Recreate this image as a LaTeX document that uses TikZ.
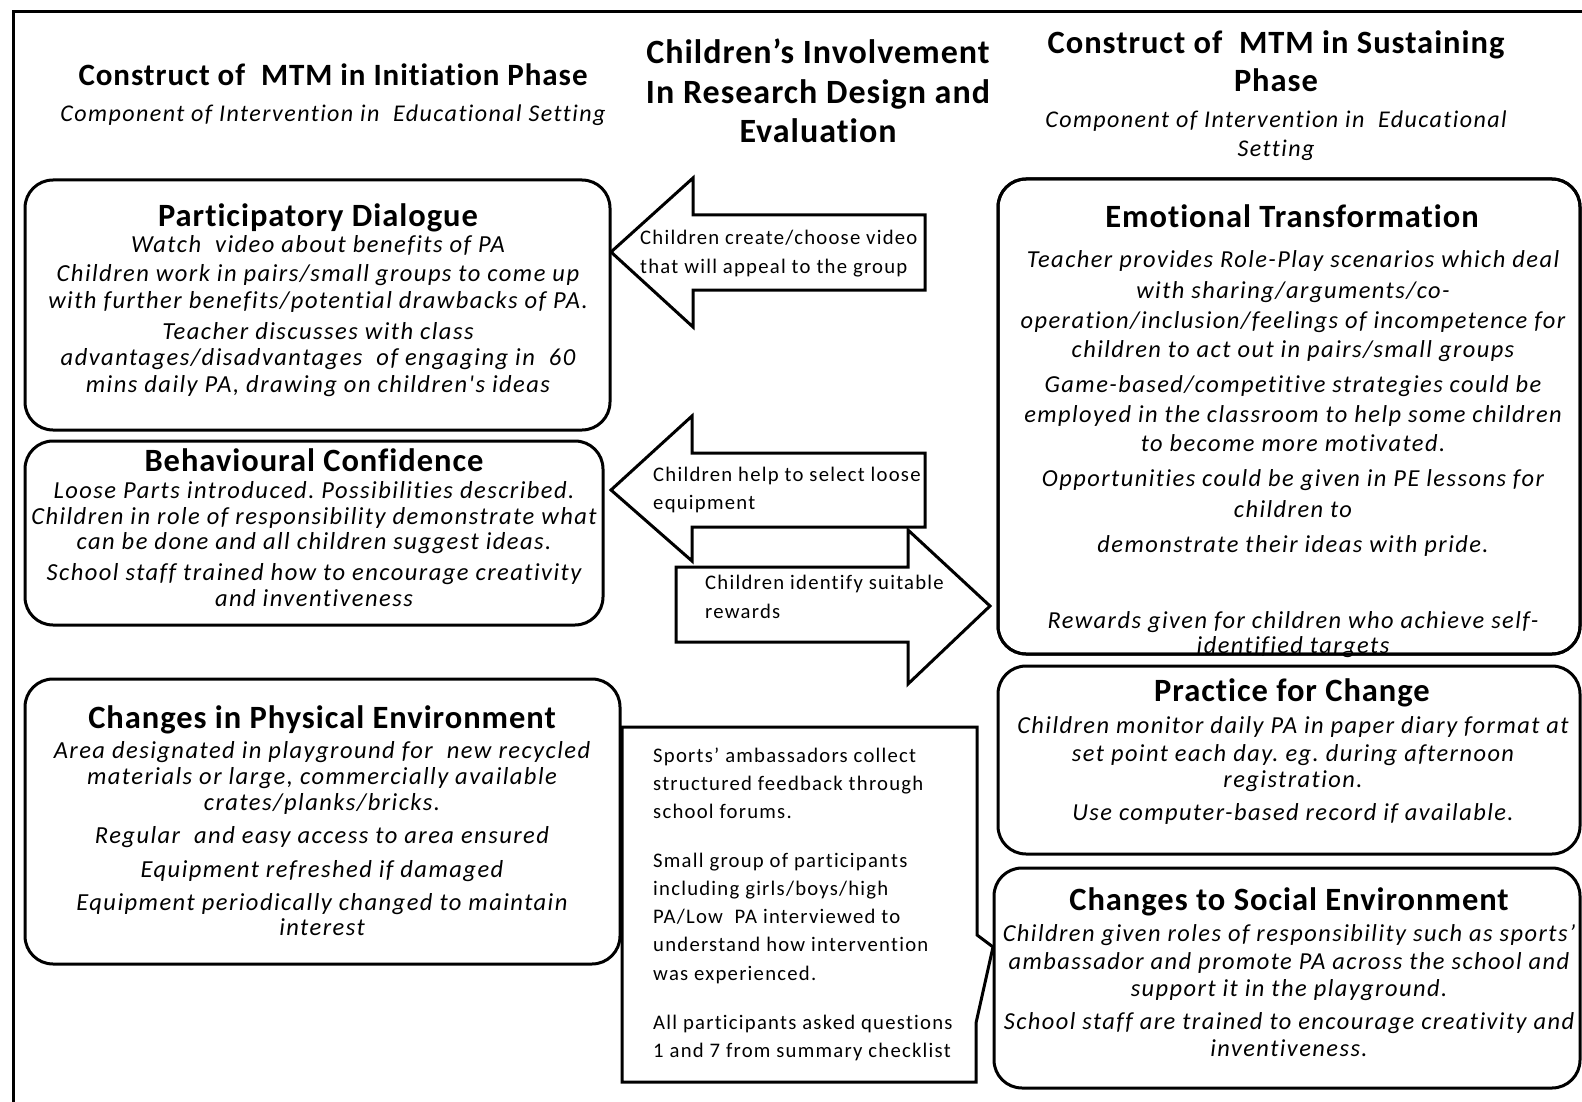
\documentclass[tikz,border=0pt]{standalone}
\usepackage{fontspec}
\setmainfont{Carlito}[Ligatures=NoCommon]
\newfontfamily\hdfont{Carlito}[LetterSpace=3,Ligatures=NoCommon]
\newfontfamily\bdfont{Carlito}[LetterSpace=6,Ligatures=NoCommon]
\frenchspacing
\tikzset{
 hd/.style={font=\hdfont\bfseries\fontsize{32.5}{36}\selectfont, anchor=base, inner sep=0pt},
 tt/.style={font=\hdfont\bfseries\fontsize{31}{36}\selectfont, anchor=base, inner sep=0pt},
 bt/.style={font=\bdfont\itshape\fontsize{24.5}{28}\selectfont, anchor=base, inner sep=0pt},
 rt/.style={font=\bdfont\itshape\fontsize{24.4}{28}\selectfont, anchor=base, inner sep=0pt},
 st/.style={font=\bdfont\itshape\fontsize{24}{28}\selectfont, anchor=base, inner sep=0pt},
 mt/.style={font=\bdfont\fontsize{20.7}{24}\selectfont, anchor=base west, inner sep=0pt},
 rbox/.style={draw, line width=3pt, rounded corners=28pt, fill=white},
 blk/.style={draw, line width=3pt, fill=white, line join=miter},
}
\begin{document}
\frenchspacing
\begin{tikzpicture}[x=1pt,y=-1pt]
\useasboundingbox (0,0) rectangle (1582,1102);
\clip (0,0) rectangle (1582,1102);
\fill[white] (0,0) rectangle (1582,1102);
\draw[line width=3pt] (13,1120) -- (13,12) -- (1600,12);

% top titles
\node[tt] (tl1) at (333,86) {Construct of\ \ MTM in Initiation Phase};
\node[st] (tl2) at (333,122) {Component of Intervention in\ \ Educational Setting};
\node[tt, font=\hdfont\bfseries\fontsize{34}{36}\selectfont] (tm1) at (818,64) {Children’s Involvement};
\node[tt, font=\hdfont\bfseries\fontsize{34}{36}\selectfont] (tm2) at (818,104) {In Research Design and};
\node[tt, font=\hdfont\bfseries\fontsize{34}{36}\selectfont] (tm3) at (818,143) {Evaluation};
\node[tt, font=\hdfont\bfseries\fontsize{32.5}{36}\selectfont] (tr1) at (1276,54) {Construct of\ \ MTM in Sustaining};
\node[tt, font=\hdfont\bfseries\fontsize{32.5}{36}\selectfont] (tr2) at (1276,92) {Phase};
\node[st] (tr3) at (1276,128) {Component of Intervention in\ \ Educational};
\node[st] (tr4) at (1276,157) {Setting};

% arrows
\draw[blk] (611,252) -- (693,178) -- (693,215) -- (925,215) -- (925,290) -- (693,290) -- (693,327) -- cycle;
\node[mt] (a1a) at (640,244) {Children create/choose video};
\node[mt] (a1b) at (640,273) {that will appeal to the group};
\draw[blk] (611,490) -- (692,416) -- (692,453) -- (925,453) -- (925,527) -- (692,527) -- (692,561) -- cycle;
\node[mt] (a2a) at (653,481) {Children help to select loose};
\node[mt] (a2b) at (653,509) {equipment};
\draw[blk] (676,567) -- (908,567) -- (908,530) -- (990,606) -- (908,684) -- (908,642) -- (676,642) -- cycle;
\node[mt] (a3a) at (705,589) {Children identify suitable};
\node[mt] (a3b) at (705,618) {rewards};

% middle callout
\draw[blk] (622,727) -- (977,727) -- (977,935) -- (993,947) -- (976,1023) -- (976,1082) -- (622,1082) -- cycle;
\node[mt] (m1) at (653,762) {Sports’ ambassadors collect};
\node[mt] (m2) at (653,790) {structured feedback through};
\node[mt] (m3) at (653,818) {school forums.};
\node[mt] (m4) at (653,867) {Small group of participants};
\node[mt] (m5) at (653,895) {including girls/boys/high};
\node[mt] (m6) at (653,923) {PA/Low\ \ PA interviewed to};
\node[mt] (m7) at (653,951) {understand how intervention};
\node[mt] (m8) at (653,980) {was experienced.};
\node[mt] (m9) at (653,1029) {All participants asked questions};
\node[mt] (m10) at (653,1057) {1 and 7 from summary checklist};

% left boxes
\draw[rbox] (25,180) rectangle (610,430);
\node[hd] (pdh) at (318,226) {Participatory Dialogue};
\node[bt] (pd1) at (318,252) {Watch\ \ video about benefits of PA};
\node[bt] (pd2) at (318,281) {Children work in pairs/small groups to come up};
\node[bt] (pd3) at (318,308) {with further benefits/potential drawbacks of PA.};
\node[bt] (pd4) at (318,339) {Teacher discusses with class};
\node[bt] (pd5) at (318,365) {advantages/disadvantages\ \ of engaging in\ \ 60};
\node[bt] (pd6) at (318,392) {mins daily PA, drawing on children's ideas};

\draw[rbox] (25,441) rectangle (603,625);
\node[hd] (bch) at (314,471) {Behavioural Confidence};
\node[bt] (bc1) at (314,498) {Loose Parts introduced. Possibilities described.};
\node[bt] (bc2) at (314,524) {Children in role of responsibility demonstrate what};
\node[bt] (bc3) at (314,549) {can be done and all children suggest ideas.};
\node[bt] (bc4) at (314,580) {School staff trained how to encourage creativity};
\node[bt] (bc5) at (314,606) {and inventiveness};

\draw[rbox] (25,679) rectangle (620,964);
\node[hd] (cph) at (322,728) {Changes in Physical Environment};
\node[bt] (cp1) at (322,758) {Area designated in playground for\ \ new recycled};
\node[bt] (cp2) at (322,784) {materials or large, commercially available};
\node[bt] (cp3) at (322,810) {crates/planks/bricks.};
\node[bt] (cp4) at (322,843) {Regular\ \ and easy access to area ensured};
\node[bt] (cp5) at (322,877) {Equipment refreshed if damaged};
\node[bt] (cp6) at (322,910) {Equipment periodically changed to maintain};
\node[bt] (cp7) at (322,935) {interest};

% right boxes
\draw[rbox] (998,179) rectangle (1580,654);
\node[hd] (eth) at (1292,227) {Emotional Transformation};
\node[rt] (et1) at (1293,267) {Teacher provides Role-Play scenarios which deal};
\node[rt] (et2) at (1293,298) {with sharing/arguments/co-};
\node[rt] (et3) at (1293,328) {operation/inclusion/feelings of incompetence for};
\node[rt] (et4) at (1293,357) {children to act out in pairs/small groups};
\node[rt] (et5) at (1293,392) {Game-based/competitive strategies could be};
\node[rt] (et6) at (1293,422) {employed in the classroom to help some children};
\node[rt] (et7) at (1293,451) {to become more motivated.};
\node[rt] (et8) at (1293,486) {Opportunities could be given in PE lessons for};
\node[rt] (et9) at (1293,517) {children to};
\node[rt] (et10) at (1293,552) {demonstrate their ideas with pride.};
\node[rt] (et11) at (1293,628) {Rewards given for children who achieve self-};
\node[rt] (et12) at (1293,653) {identified targets};
\draw[line width=3pt, rounded corners=28pt] (998,179) rectangle (1580,654);

\draw[rbox] (998,666) rectangle (1580,854);
\node[hd] (pch) at (1292,701) {Practice for Change};
\node[rt] (pc1) at (1293,733) {Children monitor daily PA in paper diary format at};
\node[rt] (pc2) at (1293,761) {set point each day. eg. during afternoon};
\node[rt] (pc3) at (1293,787) {registration.};
\node[rt] (pc4) at (1293,820) {Use computer-based record if available.};

\draw[rbox] (994,868) rectangle (1580,1088);
\node[hd] (csh) at (1289,910) {Changes to Social Environment};
\node[rt] (cs1) at (1289,941) {Children given roles of responsibility such as sports’};
\node[rt] (cs2) at (1289,969) {ambassador and promote PA across the school and};
\node[rt] (cs3) at (1289,996) {support it in the playground.};
\node[rt] (cs4) at (1289,1029) {School staff are trained to encourage creativity and};
\node[rt] (cs5) at (1289,1056) {inventiveness.};
\end{tikzpicture}
\end{document}
